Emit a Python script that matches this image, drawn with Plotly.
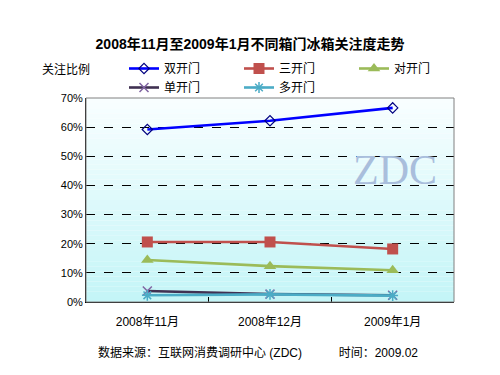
import plotly.graph_objects as go

categories = ["2008年11月", "2008年12月", "2009年1月"]
s_double = [0.592, 0.622, 0.666]
s_three = [0.206, 0.206, 0.182]
s_side = [0.144, 0.123, 0.109]
s_single = [0.038, 0.027, 0.023]
s_multi = [0.023, 0.026, 0.022]
y_ticks = [0, 0.1, 0.2, 0.3, 0.4, 0.5, 0.6, 0.7]

FONT = "Arial, 'Liberation Sans', 'Noto Sans CJK SC', sans-serif"

fig = go.Figure()

series = [
    ("双开门", s_double, "#0000FF", dict(symbol="diamond-open", size=8, color="#000080", line=dict(width=1.2, color="#000080"))),
    ("三开门", s_three, "#C0504D", dict(symbol="square", size=11, color="#C0504D")),
    ("对开门", s_side, "#9BBB59", dict(symbol="triangle-up", size=11, color="#9BBB59")),
    ("单开门", s_single, "#403152", dict(symbol="x-thin", size=9, color="#8064A2", line=dict(width=1.5, color="#8064A2"))),
    ("多开门", s_multi, "#4BACC6", dict(symbol="asterisk", size=9, color="#4BACC6", line=dict(width=1.5, color="#4BACC6"))),
]
for name, vals, col, mk in series:
    fig.add_trace(go.Scatter(x=categories, y=vals, name=name, mode="lines+markers",
                             line=dict(color=col, width=2.6), marker=mk))

# gradient background bands
shapes = []
n = 40
top = (248, 254, 255)
bot = (196, 245, 247)
for i in range(n):
    t = i / (n - 1)
    c = tuple(int(round(top[k] + (bot[k] - top[k]) * t)) for k in range(3))
    shapes.append(dict(type="rect", xref="paper", yref="paper", x0=0, x1=1,
                       y0=1 - (i + 1) / n, y1=1 - i / n, layer="below",
                       line=dict(width=0), fillcolor="rgb(%d,%d,%d)" % c))
shapes.append(dict(type="rect", xref="paper", yref="paper", x0=0, x1=1, y0=0, y1=1,
                   layer="above", line=dict(width=1, color="#808080")))

fig.update_layout(
    width=500, height=375,
    margin=dict(l=86, r=46, t=98, b=73),
    paper_bgcolor="white", plot_bgcolor="rgba(0,0,0,0)",
    font=dict(family=FONT, size=11, color="black"),
    title=dict(text="<b>2008年11月至2009年1月不同箱门冰箱关注度走势</b>", x=0.5, xanchor="center",
               y=1 - 44 / 375, yanchor="middle", font=dict(size=14, color="black")),
    showlegend=True,
    legend=dict(orientation="h", x=(124 - 86) / 368, xanchor="left", y=1 + (98 - 54) / 204,
                yanchor="top", entrywidth=70, entrywidthmode="pixels", tracegroupgap=0,
                bgcolor="rgba(0,0,0,0)", font=dict(size=12)),
    shapes=shapes,
    xaxis=dict(type="category", showgrid=False, showline=True, linecolor="black", linewidth=1,
               ticks="inside", ticklen=5, tickcolor="black", tickson="boundaries",
               tickfont=dict(size=12), range=[-0.5, 2.5], ticklabelstandoff=9),
    yaxis=dict(range=[0, 0.7], tickvals=y_ticks, tickformat=".0%", showgrid=True,
               gridcolor="black", griddash="dash", gridwidth=1, showline=True, linecolor="black",
               zeroline=False, ticks="", tickfont=dict(size=11)),
    annotations=[
        dict(text="关注比例", xref="paper", yref="paper", x=(40 - 86) / 368, y=1 + (98 - 69) / 204,
             xanchor="left", yanchor="middle", showarrow=False, font=dict(size=12)),
        dict(text="ZDC", xref="paper", yref="paper", x=(395 - 86) / 368, y=(302 - 170) / 204,
             xanchor="center", yanchor="middle", showarrow=False,
             font=dict(family="'Liberation Serif', 'DejaVu Serif', serif", size=42, color="#A9BEDC")),
        dict(text="数据来源：互联网消费调研中心 (ZDC)&nbsp;&nbsp;&nbsp;&nbsp;&nbsp;&nbsp;&nbsp;&nbsp;&nbsp;&nbsp;&nbsp;时间：2009.02",
             xref="paper", yref="paper", x=(96 - 86) / 368, y=-(352 - 302) / 204,
             xanchor="left", yanchor="middle", showarrow=False, font=dict(size=12)),
    ],
)

fig.write_html("out.html", config={"displayModeBar": False},
               post_script="document.body.style.margin='0px';")
